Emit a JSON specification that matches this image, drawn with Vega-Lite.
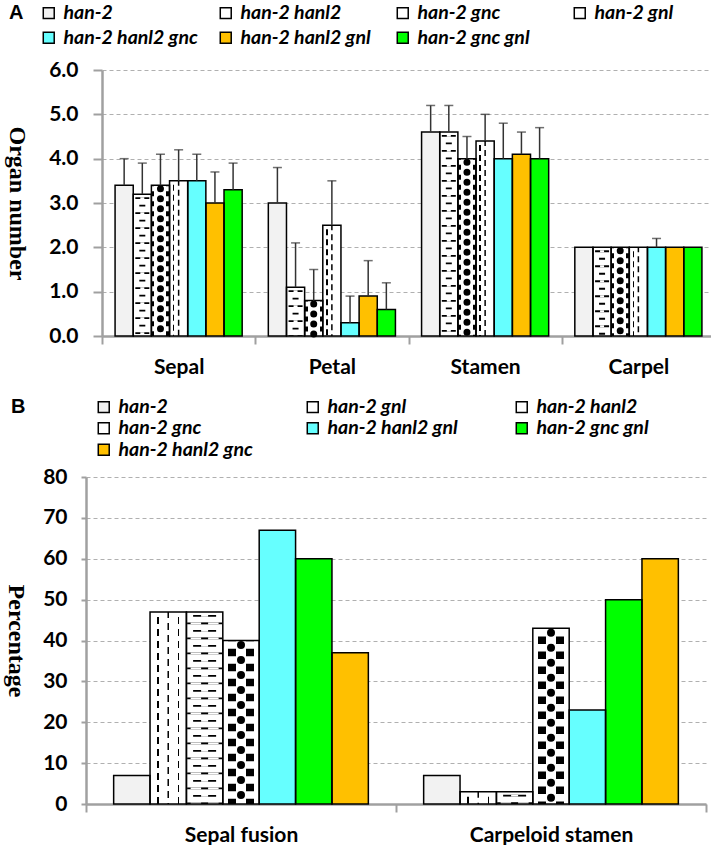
{
  "$schema": "https://vega.github.io/schema/vega-lite/v6.json",
  "background": "white",
  "padding": {"left": 3, "top": 3, "right": 0, "bottom": 0},
  "columns": 1,
  "spacing": 20,
  "resolve": {"scale": {"fill": "independent", "x": "independent", "y": "independent", "xOffset": "independent"}, "legend": {"fill": "independent"}},
  "config": {
    "view": {"stroke": null},
    "font": "Lato",
    "axis": {
      "labelFont": "Lato", "labelFontWeight": "bold", "labelColor": "black", "labelFontSize": 21,
      "domainColor": "#a0a0a0", "domainWidth": 2.5, "tickColor": "#a0a0a0", "tickWidth": 2, "tickSize": 8,
      "gridColor": "#b0b0b0", "gridDash": [4, 3], "gridWidth": 1,
      "titleFont": "Liberation Serif", "titleFontWeight": "bold", "titleColor": "black", "titleFontSize": 24
    },
    "axisX": {"grid": false, "tickBand": "extent", "labelAngle": 0, "zindex": 1, "title": null, "labelPadding": 12},
    "axisY": {"grid": true, "labelPadding": 15, "titleAngle": 90, "titleBaseline": "top"},
    "legend": {
      "orient": "none", "direction": "horizontal", "gridAlign": "all",
      "titleOrient": "left", "titleFont": "Liberation Sans", "titleFontSize": 20, "titleFontWeight": "bold", "titleColor": "black",
      "titleAnchor": "start", "titleBaseline": "top",
      "symbolType": "square", "symbolSize": 120, "symbolStrokeColor": "black", "symbolStrokeWidth": 1.5, "symbolOpacity": 1,
      "labelFont": "Lato", "labelFontSize": 19.5, "labelFontWeight": "bold", "labelFontStyle": "italic", "labelColor": "black",
      "labelOffset": 5, "labelLimit": 300
    }
  },
  "concat": [
    {
      "width": 613,
      "height": 266,
      "data": {"values": [
        {"organ": "Sepal", "genotype": "han-2", "value": 3.4, "err": 4.0},
        {"organ": "Sepal", "genotype": "han-2 hanl2", "value": 3.2, "err": 3.9},
        {"organ": "Sepal", "genotype": "han-2 gnc", "value": 3.4, "err": 4.1},
        {"organ": "Sepal", "genotype": "han-2 gnl", "value": 3.5, "err": 4.2},
        {"organ": "Sepal", "genotype": "han-2 hanl2 gnc", "value": 3.5, "err": 4.1},
        {"organ": "Sepal", "genotype": "han-2 hanl2 gnl", "value": 3.0, "err": 3.7},
        {"organ": "Sepal", "genotype": "han-2 gnc gnl", "value": 3.3, "err": 3.9},
        {"organ": "Petal", "genotype": "han-2", "value": 3.0, "err": 3.8},
        {"organ": "Petal", "genotype": "han-2 hanl2", "value": 1.1, "err": 2.1},
        {"organ": "Petal", "genotype": "han-2 gnc", "value": 0.8, "err": 1.5},
        {"organ": "Petal", "genotype": "han-2 gnl", "value": 2.5, "err": 3.5},
        {"organ": "Petal", "genotype": "han-2 hanl2 gnc", "value": 0.3, "err": 0.9},
        {"organ": "Petal", "genotype": "han-2 hanl2 gnl", "value": 0.9, "err": 1.7},
        {"organ": "Petal", "genotype": "han-2 gnc gnl", "value": 0.6, "err": 1.2},
        {"organ": "Stamen", "genotype": "han-2", "value": 4.6, "err": 5.2},
        {"organ": "Stamen", "genotype": "han-2 hanl2", "value": 4.6, "err": 5.2},
        {"organ": "Stamen", "genotype": "han-2 gnc", "value": 4.0, "err": 4.5},
        {"organ": "Stamen", "genotype": "han-2 gnl", "value": 4.4, "err": 5.0},
        {"organ": "Stamen", "genotype": "han-2 hanl2 gnc", "value": 4.0, "err": 4.8},
        {"organ": "Stamen", "genotype": "han-2 hanl2 gnl", "value": 4.1, "err": 4.6},
        {"organ": "Stamen", "genotype": "han-2 gnc gnl", "value": 4.0, "err": 4.7},
        {"organ": "Carpel", "genotype": "han-2", "value": 2.0, "err": null},
        {"organ": "Carpel", "genotype": "han-2 hanl2", "value": 2.0, "err": null},
        {"organ": "Carpel", "genotype": "han-2 gnc", "value": 2.0, "err": null},
        {"organ": "Carpel", "genotype": "han-2 gnl", "value": 2.0, "err": null},
        {"organ": "Carpel", "genotype": "han-2 hanl2 gnc", "value": 2.0, "err": 2.2},
        {"organ": "Carpel", "genotype": "han-2 hanl2 gnl", "value": 2.0, "err": null},
        {"organ": "Carpel", "genotype": "han-2 gnc gnl", "value": 2.0, "err": null}
      ]},
      "encoding": {
        "x": {"field": "organ", "type": "nominal", "sort": ["Sepal", "Petal", "Stamen", "Carpel"], "scale": {"paddingInner": 0, "paddingOuter": 0}},
        "xOffset": {"field": "genotype", "type": "nominal", "sort": ["han-2", "han-2 hanl2", "han-2 gnc", "han-2 gnl", "han-2 hanl2 gnc", "han-2 hanl2 gnl", "han-2 gnc gnl"], "scale": {"domain": ["han-2", "han-2 hanl2", "han-2 gnc", "han-2 gnl", "han-2 hanl2 gnc", "han-2 hanl2 gnl", "han-2 gnc gnl"], "paddingInner": 0, "paddingOuter": 0.72}},
        "y": {"field": "value", "type": "quantitative", "scale": {"domain": [0, 6]}, "axis": {"values": [0, 1, 2, 3, 4, 5, 6], "format": ".1f", "title": "Organ number", "titlePadding": 20, "tickSize": 9}}
      },
      "layer": [
        {
          "mark": {"type": "bar"},
          "encoding": {
            "fill": {"field": "genotype", "type": "nominal",
              "scale": {"domain": ["han-2", "han-2 hanl2", "han-2 gnc", "han-2 gnl", "han-2 hanl2 gnc", "han-2 hanl2 gnl", "han-2 gnc gnl"], "range": ["#F2F2F2", "#FFFFFF", "#FFFFFF", "#FFFFFF", "#66FFFF", "#FFC000", "#00FF00"]},
              "legend": {"title": "A", "columns": 4, "legendX": -93, "legendY": -67, "titlePadding": 15, "columnPadding": 18, "rowPadding": 4}}
          }
        },
        {
          "transform": [{"filter": "datum.genotype == 'han-2 gnl'"}],
          "mark": {"type": "bar", "fill": {"gradient": "linear", "x1": 0, "x2": 1, "y1": 0, "y2": 0, "stops": [
            {"offset": 0, "color": "white"}, {"offset": 0.19, "color": "white"}, {"offset": 0.19, "color": "black"},
            {"offset": 0.26, "color": "black"}, {"offset": 0.26, "color": "white"}, {"offset": 1, "color": "white"}]}}
        },
        {
          "transform": [{"filter": "datum.genotype == 'han-2 gnl'"}],
          "mark": {"type": "rule", "color": "white", "strokeWidth": 17, "strokeDash": [4, 6], "strokeDashOffset": 0},
          "encoding": {"y2": {"datum": 0}}
        },
        {
          "transform": [{"filter": "datum.genotype == 'han-2 gnl'"}],
          "mark": {"type": "rule", "color": "black", "strokeWidth": 1.5, "strokeDash": [6, 4], "strokeDashOffset": 1},
          "encoding": {"y2": {"datum": 0}}
        },
        {
          "transform": [{"filter": "datum.genotype == 'han-2 gnc'"}],
          "mark": {"type": "bar", "fill": {"gradient": "linear", "x1": 0, "x2": 1, "y1": 0, "y2": 0, "stops": [
            {"offset": 0, "color": "black"}, {"offset": 0.17, "color": "black"}, {"offset": 0.17, "color": "white"},
            {"offset": 0.83, "color": "white"}, {"offset": 0.83, "color": "black"}, {"offset": 1, "color": "black"}]}}
        },
        {
          "transform": [{"filter": "datum.genotype == 'han-2 gnc'"}],
          "mark": {"type": "rule", "color": "white", "strokeWidth": 17, "strokeDash": [5, 5], "strokeDashOffset": 9},
          "encoding": {"y2": {"datum": 0}}
        },
        {
          "transform": [{"filter": "datum.genotype == 'han-2 gnc'"}],
          "mark": {"type": "rule", "color": "black", "strokeWidth": 7, "strokeCap": "round", "strokeDash": [0.01, 9.99], "strokeDashOffset": 6.5},
          "encoding": {"y2": {"datum": 0}}
        },
        {
          "transform": [{"filter": "datum.genotype == 'han-2 hanl2'"}],
          "mark": {"type": "rule", "color": "black", "strokeWidth": 14, "strokeDash": [1.8, 13.2], "strokeDashOffset": 12},
          "encoding": {"y2": {"datum": 0}}
        },
        {
          "transform": [{"filter": "datum.genotype == 'han-2 hanl2'"}],
          "mark": {"type": "rule", "color": "white", "strokeWidth": 4, "strokeDash": [1.8, 13.2], "strokeDashOffset": 12},
          "encoding": {"y2": {"datum": 0}}
        },
        {
          "transform": [{"filter": "datum.genotype == 'han-2 hanl2'"}],
          "mark": {"type": "rule", "color": "black", "strokeWidth": 6, "strokeDash": [1.8, 13.2], "strokeDashOffset": 4.5},
          "encoding": {"y2": {"datum": 0}}
        },
        {
          "mark": {"type": "bar", "fillOpacity": 0, "stroke": "black", "strokeWidth": 1.5}
        },
        {
          "transform": [{"filter": "datum.err != null"}],
          "mark": {"type": "rule", "color": "#333333", "strokeWidth": 1.5},
          "encoding": {"y2": {"field": "err"}}
        },
        {
          "transform": [{"filter": "datum.err != null"}],
          "mark": {"type": "tick", "color": "#333333", "thickness": 1.5, "size": 9},
          "encoding": {"y": {"field": "err", "type": "quantitative", "title": "Organ number"}}
        }
      ]
    },
    {
      "width": 604,
      "height": 327,
      "data": {"values": [
        {"trait": "Sepal fusion", "genotype": "han-2", "value": 7},
        {"trait": "Sepal fusion", "genotype": "han-2 gnl", "value": 47},
        {"trait": "Sepal fusion", "genotype": "han-2 hanl2", "value": 47},
        {"trait": "Sepal fusion", "genotype": "han-2 gnc", "value": 40},
        {"trait": "Sepal fusion", "genotype": "han-2 hanl2 gnl", "value": 67},
        {"trait": "Sepal fusion", "genotype": "han-2 gnc gnl", "value": 60},
        {"trait": "Sepal fusion", "genotype": "han-2 hanl2 gnc", "value": 37},
        {"trait": "Carpeloid stamen", "genotype": "han-2", "value": 7},
        {"trait": "Carpeloid stamen", "genotype": "han-2 gnl", "value": 3},
        {"trait": "Carpeloid stamen", "genotype": "han-2 hanl2", "value": 3},
        {"trait": "Carpeloid stamen", "genotype": "han-2 gnc", "value": 43},
        {"trait": "Carpeloid stamen", "genotype": "han-2 hanl2 gnl", "value": 23},
        {"trait": "Carpeloid stamen", "genotype": "han-2 gnc gnl", "value": 50},
        {"trait": "Carpeloid stamen", "genotype": "han-2 hanl2 gnc", "value": 60}
      ]},
      "encoding": {
        "x": {"field": "trait", "type": "nominal", "sort": ["Sepal fusion", "Carpeloid stamen"], "scale": {"range": [-16, 604], "paddingInner": 0, "paddingOuter": 0}},
        "xOffset": {"field": "genotype", "type": "nominal", "sort": ["han-2", "han-2 gnl", "han-2 hanl2", "han-2 gnc", "han-2 hanl2 gnl", "han-2 gnc gnl", "han-2 hanl2 gnc"], "scale": {"domain": ["han-2", "han-2 gnl", "han-2 hanl2", "han-2 gnc", "han-2 hanl2 gnl", "han-2 gnc gnl", "han-2 hanl2 gnc"], "paddingInner": 0, "paddingOuter": 0.76}},
        "y": {"field": "value", "type": "quantitative", "scale": {"domain": [0, 80]}, "axis": {"values": [0, 10, 20, 30, 40, 50, 60, 70, 80], "format": "d", "title": "Percentage", "titlePadding": 15, "tickSize": 5, "labelPadding": 14, "offset": 16}}
      },
      "layer": [
        {
          "mark": {"type": "bar"},
          "encoding": {
            "fill": {"field": "genotype", "type": "nominal",
              "scale": {"domain": ["han-2", "han-2 gnl", "han-2 hanl2", "han-2 gnc", "han-2 hanl2 gnl", "han-2 gnc gnl", "han-2 hanl2 gnc"], "range": ["#F2F2F2", "#FFFFFF", "#FFFFFF", "#FFFFFF", "#66FFFF", "#00FF00", "#FFC000"]},
              "legend": {"title": "B", "columns": 3, "legendX": -91, "legendY": -80, "titlePadding": 68, "columnPadding": 50, "rowPadding": 0.5}}
          }
        },
        {
          "transform": [{"filter": "datum.genotype == 'han-2 gnl'"}],
          "mark": {"type": "bar", "fill": {"gradient": "linear", "x1": 0, "x2": 1, "y1": 0, "y2": 0, "stops": [
            {"offset": 0, "color": "white"}, {"offset": 0.2, "color": "white"}, {"offset": 0.2, "color": "black"},
            {"offset": 0.24, "color": "black"}, {"offset": 0.24, "color": "white"}, {"offset": 0.76, "color": "white"},
            {"offset": 0.76, "color": "black"}, {"offset": 0.8, "color": "black"}, {"offset": 0.8, "color": "white"},
            {"offset": 1, "color": "white"}]}}
        },
        {
          "transform": [{"filter": "datum.genotype == 'han-2 gnl'"}],
          "mark": {"type": "rule", "color": "white", "strokeWidth": 35, "strokeDash": [5, 7], "strokeDashOffset": 0},
          "encoding": {"y2": {"datum": 0}}
        },
        {
          "transform": [{"filter": "datum.genotype == 'han-2 gnl'"}],
          "mark": {"type": "rule", "color": "black", "strokeWidth": 1.5, "strokeDash": [7, 5], "strokeDashOffset": 1},
          "encoding": {"y2": {"datum": 0}}
        },
        {
          "transform": [{"filter": "datum.genotype == 'han-2 gnc'"}],
          "mark": {"type": "bar", "fill": {"gradient": "linear", "x1": 0, "x2": 1, "y1": 0, "y2": 0, "stops": [
            {"offset": 0, "color": "white"}, {"offset": 0.14, "color": "white"}, {"offset": 0.14, "color": "black"},
            {"offset": 0.36, "color": "black"}, {"offset": 0.36, "color": "white"}, {"offset": 0.64, "color": "white"},
            {"offset": 0.64, "color": "black"}, {"offset": 0.86, "color": "black"}, {"offset": 0.86, "color": "white"},
            {"offset": 1, "color": "white"}]}}
        },
        {
          "transform": [{"filter": "datum.genotype == 'han-2 gnc'"}],
          "mark": {"type": "rule", "color": "white", "strokeWidth": 35, "strokeDash": [7.5, 7.5], "strokeDashOffset": 14.25},
          "encoding": {"y2": {"datum": 0}}
        },
        {
          "transform": [{"filter": "datum.genotype == 'han-2 gnc'"}],
          "mark": {"type": "rule", "color": "black", "strokeWidth": 8, "strokeCap": "round", "strokeDash": [0.01, 14.99], "strokeDashOffset": 10.5},
          "encoding": {"y2": {"datum": 0}}
        },
        {
          "transform": [{"filter": "datum.genotype == 'han-2 hanl2'"}],
          "mark": {"type": "rule", "color": "black", "strokeWidth": 23, "strokeDash": [1.8, 13.2], "strokeDashOffset": 12},
          "encoding": {"y2": {"datum": 0}}
        },
        {
          "transform": [{"filter": "datum.genotype == 'han-2 hanl2'"}],
          "mark": {"type": "rule", "color": "white", "strokeWidth": 7, "strokeDash": [1.8, 13.2], "strokeDashOffset": 12},
          "encoding": {"y2": {"datum": 0}}
        },
        {
          "transform": [{"filter": "datum.genotype == 'han-2 hanl2'"}],
          "mark": {"type": "rule", "color": "black", "strokeWidth": 35, "strokeDash": [1.8, 13.2], "strokeDashOffset": 4.5},
          "encoding": {"y2": {"datum": 0}}
        },
        {
          "transform": [{"filter": "datum.genotype == 'han-2 hanl2'"}],
          "mark": {"type": "rule", "color": "white", "strokeWidth": 28, "strokeDash": [1.8, 13.2], "strokeDashOffset": 4.5},
          "encoding": {"y2": {"datum": 0}}
        },
        {
          "transform": [{"filter": "datum.genotype == 'han-2 hanl2'"}],
          "mark": {"type": "rule", "color": "black", "strokeWidth": 7, "strokeDash": [1.8, 13.2], "strokeDashOffset": 4.5},
          "encoding": {"y2": {"datum": 0}}
        },
        {
          "mark": {"type": "bar", "fillOpacity": 0, "stroke": "black", "strokeWidth": 1.5}
        }
      ]
    }
  ]
}
